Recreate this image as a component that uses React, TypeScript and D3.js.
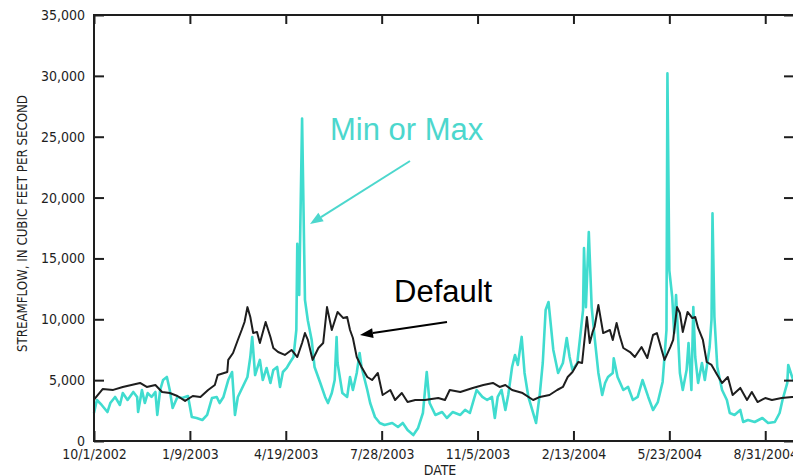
import { useEffect, useRef } from "react";
import * as d3 from "d3";

const startDate = new Date(2002, 9, 1);
const endDate = new Date(2004, 8, 30);

const xTickLabels = ["10/1/2002", "1/9/2003", "4/19/2003", "7/28/2003", "11/5/2003", "2/13/2004", "5/23/2004", "8/31/2004"];
const yTicks = [0, 5000, 10000, 15000, 20000, 25000, 30000, 35000];

// days since 10/1/2002 and streamflow (cfs)
const defaultDays = [0, 9, 20, 30, 48, 55, 64, 71, 79, 87, 95, 103, 111, 119, 126, 129, 139, 140, 145, 150, 154, 157, 160, 163, 166, 170, 173, 179, 184, 187, 192, 199, 206, 212, 217, 220, 223, 228, 234, 239, 243, 248, 254, 260, 264, 267, 270, 274, 279, 285, 290, 296, 301, 309, 314, 321, 327, 335, 345, 359, 366, 371, 382, 395, 406, 416, 423, 429, 436, 447, 458, 465, 475, 483, 489, 494, 499, 505, 509, 514, 517, 520, 522, 526, 531, 538, 541, 545, 548, 552, 559, 564, 571, 577, 583, 587, 592, 595, 601, 604, 608, 611, 614, 619, 624, 627, 630, 635, 639, 644, 650, 655, 661, 666, 674, 681, 686, 692, 700, 707, 717, 728, 730];
const defaultFlow = [3400, 4270, 4200, 4440, 4770, 4440, 4600, 4030, 3940, 3700, 3290, 3700, 3620, 4190, 4600, 5420, 5670, 6660, 7230, 8300, 9120, 9780, 11000, 10190, 8870, 8960, 8050, 9780, 8550, 7640, 7310, 7070, 7480, 6900, 8050, 8870, 8300, 6660, 7640, 8050, 11000, 9120, 10600, 10100, 10190, 9120, 8460, 6900, 6080, 5260, 5010, 5590, 3780, 4190, 3370, 3940, 3200, 3370, 3370, 3530, 3370, 4190, 4030, 4360, 4600, 4770, 4440, 4600, 4190, 3940, 3370, 3620, 3780, 4190, 4440, 5260, 5670, 6490, 6410, 10190, 8050, 8960, 9370, 11170, 8870, 9120, 8300, 9700, 8710, 7640, 7310, 6900, 7720, 6820, 8710, 8870, 7480, 6660, 7720, 8300, 11000, 10520, 8960, 10600, 10100, 10190, 9290, 8300, 6490, 6250, 5420, 4770, 5260, 3780, 4360, 3370, 4030, 3200, 3530, 3370, 3530, 3620, 3600];

const minMaxDays = [0, 3, 8, 14, 17, 22, 27, 30, 35, 41, 45, 46, 50, 53, 56, 60, 64, 66, 69, 72, 76, 79, 82, 87, 92, 98, 102, 107, 113, 118, 123, 128, 131, 135, 140, 144, 147, 150, 155, 160, 163, 165, 168, 173, 176, 180, 184, 187, 191, 194, 197, 201, 204, 208, 211, 212, 214, 217, 220, 223, 227, 230, 236, 241, 244, 248, 251, 253, 254, 259, 264, 267, 270, 274, 277, 279, 285, 288, 293, 298, 303, 311, 317, 322, 327, 333, 338, 343, 347, 350, 356, 363, 368, 374, 382, 387, 392, 395, 399, 405, 410, 415, 418, 421, 425, 429, 432, 436, 439, 442, 446, 449, 453, 457, 461, 465, 468, 471, 474, 479, 484, 489, 493, 496, 499, 504, 507, 510, 511, 513, 516, 519, 522, 526, 530, 533, 536, 541, 542, 546, 552, 557, 562, 567, 572, 578, 583, 588, 593, 597, 598, 600, 603, 605, 607, 611, 614, 618, 620, 623, 625, 627, 630, 634, 637, 642, 644, 645, 647, 650, 655, 660, 663, 668, 674, 677, 682, 689, 697, 703, 710, 715, 718, 723, 724, 728, 730];
const minMaxFlow = [2300, 3370, 2960, 2380, 3120, 3620, 2960, 3940, 3370, 4030, 3620, 2380, 4190, 3120, 3940, 3620, 4030, 2140, 4190, 5010, 5260, 4190, 2710, 3620, 3530, 3700, 1970, 1890, 1725, 2140, 3530, 3620, 3120, 3620, 5010, 5670, 2140, 3620, 4440, 5260, 6900, 8550, 5420, 6660, 5010, 6000, 4770, 5830, 6080, 4440, 5670, 6000, 6410, 6900, 9120, 16200, 12000, 26500, 11600, 9900, 8300, 6080, 4770, 3620, 3120, 3940, 5010, 8550, 6410, 3940, 3620, 5260, 4190, 5590, 7230, 6080, 4190, 3120, 1970, 1480, 1310, 1480, 1150, 1480, 900, 490, 1070, 2300, 5670, 3120, 2140, 2380, 1890, 2380, 2140, 2550, 2300, 3120, 4190, 3620, 3370, 3620, 1890, 3620, 4190, 2550, 3780, 6080, 7070, 6250, 8550, 5590, 3620, 2550, 1480, 3940, 6410, 10760, 11420, 7480, 5590, 6410, 8460, 6900, 5830, 6410, 8550, 10760, 15860, 11000, 17170, 11000, 8550, 5590, 3780, 4770, 5260, 5590, 6800, 5260, 4190, 4440, 3370, 3620, 5010, 3620, 2550, 3200, 4850, 9120, 30200, 14000, 11830, 8870, 12000, 5590, 4190, 5830, 8050, 4190, 11000, 6900, 4770, 6410, 5010, 7720, 10000, 18700, 10190, 6080, 4190, 3370, 2300, 2140, 2550, 1560, 1725, 1560, 1890, 1480, 1560, 2300, 3370, 4770, 6250, 5260, 4900];

const TURQ = "#40dccf";
const INK = "#1e1e1e";
const tickFont = "'DejaVu Sans Condensed', 'Liberation Sans Narrow', sans-serif";

function App() {
  const ref = useRef<SVGSVGElement>(null);

  useEffect(() => {
    const svg = d3.select(ref.current);
    svg.selectAll("*").remove();

    const width = 793;
    const height = 476;
    const left = 94, right = 794, top = 15, bottom = 441;

    const x = d3.scaleTime().domain([startDate, endDate]).range([left, right]);
    const y = d3.scaleLinear().domain([0, 35000]).range([bottom, top]);

    const parse = d3.timeParse("%m/%d/%Y");
    const tickDates = xTickLabels.map((s) => parse(s) as Date);

    svg.attr("width", width).attr("height", height);

    const toSeries = (days: number[], flow: number[]) =>
      days.map((d, i) => ({ date: d3.timeDay.offset(startDate, d), v: flow[i] }));

    const line = d3
      .line<{ date: Date; v: number }>()
      .x((d) => x(d.date))
      .y((d) => y(d.v));

    svg
      .append("path")
      .datum(toSeries(minMaxDays, minMaxFlow))
      .attr("fill", "none")
      .attr("stroke", TURQ)
      .attr("stroke-width", 2.6)
      .attr("stroke-linejoin", "round")
      .attr("d", line);

    svg
      .append("path")
      .datum(toSeries(defaultDays, defaultFlow))
      .attr("fill", "none")
      .attr("stroke", INK)
      .attr("stroke-width", 2)
      .attr("stroke-linejoin", "round")
      .attr("d", line);

    // axes: ticks point inward on all four sides
    const fmt = (d: Date) => xTickLabels[tickDates.findIndex((t) => +t === +d)];

    const gx = svg
      .append("g")
      .attr("transform", `translate(0,${bottom})`)
      .call(d3.axisBottom(x).tickValues(tickDates).tickFormat(fmt as any).tickSizeInner(-10).tickSizeOuter(0).tickPadding(8));
    const gy = svg
      .append("g")
      .attr("transform", `translate(${left},0)`)
      .call(d3.axisLeft(y).tickValues(yTicks).tickFormat(d3.format(",")).tickSizeInner(-10).tickSizeOuter(0).tickPadding(9));
    const gt = svg
      .append("g")
      .attr("transform", `translate(0,${top})`)
      .call(d3.axisTop(x).tickValues(tickDates).tickFormat(() => "").tickSizeInner(-9).tickSizeOuter(0));
    const gr = svg
      .append("g")
      .attr("transform", `translate(${right},0)`)
      .call(d3.axisRight(y).tickValues(yTicks).tickFormat(() => "").tickSizeInner(-10).tickSizeOuter(0));

    [gx, gy, gt, gr].forEach((g) => {
      g.select(".domain").remove();
      g.selectAll("line").attr("stroke", INK).attr("stroke-width", 2);
      g.selectAll("text").attr("fill", INK).style("font-family", tickFont).style("font-size", "14px");
    });

    svg
      .append("rect")
      .attr("x", left)
      .attr("y", top)
      .attr("width", right - left)
      .attr("height", bottom - top)
      .attr("fill", "none")
      .attr("stroke", INK)
      .attr("stroke-width", 2);

    svg
      .append("text")
      .attr("x", (left + right) / 2 - 4)
      .attr("y", 475)
      .attr("text-anchor", "middle")
      .attr("fill", INK)
      .style("font-family", tickFont)
      .style("font-size", "14px")
      .text("DATE");

    svg
      .append("text")
      .attr("transform", `translate(27,${(95 + 352) / 2}) rotate(-90)`)
      .attr("text-anchor", "middle")
      .attr("fill", INK)
      .attr("textLength", 257)
      .attr("lengthAdjust", "spacingAndGlyphs")
      .style("font-family", tickFont)
      .style("font-size", "14px")
      .text("STREAMFLOW, IN CUBIC FEET PER SECOND");

    // annotations
    const arrow = (x1: number, y1: number, x2: number, y2: number, color: string) => {
      const a = Math.atan2(y2 - y1, x2 - x1);
      const len = 13, half = 5;
      const bx = x2 - len * Math.cos(a), by = y2 - len * Math.sin(a);
      svg
        .append("line")
        .attr("x1", x1).attr("y1", y1).attr("x2", bx).attr("y2", by)
        .attr("stroke", color).attr("stroke-width", 2);
      svg
        .append("path")
        .attr("d", `M${x2},${y2}L${bx + half * Math.sin(a)},${by - half * Math.cos(a)}L${bx - half * Math.sin(a)},${by + half * Math.cos(a)}Z`)
        .attr("fill", color);
    };

    svg
      .append("text")
      .attr("x", 330)
      .attr("y", 140)
      .attr("fill", "#4cd7cd")
      .style("font-family", "'Liberation Sans', Arial, sans-serif")
      .style("font-size", "31px")
      .text("Min or Max");
    arrow(410, 161, 310, 224, "#4cd7cd");

    svg
      .append("text")
      .attr("x", 394)
      .attr("y", 302)
      .attr("fill", "#000")
      .style("font-family", "'Liberation Sans', Arial, sans-serif")
      .style("font-size", "31px")
      .text("Default");
    arrow(447, 322, 360, 335, "#000");
  }, []);

  return <svg ref={ref} style={{ position: "absolute", left: 0, top: 0 }}></svg>;
}

export default App;
